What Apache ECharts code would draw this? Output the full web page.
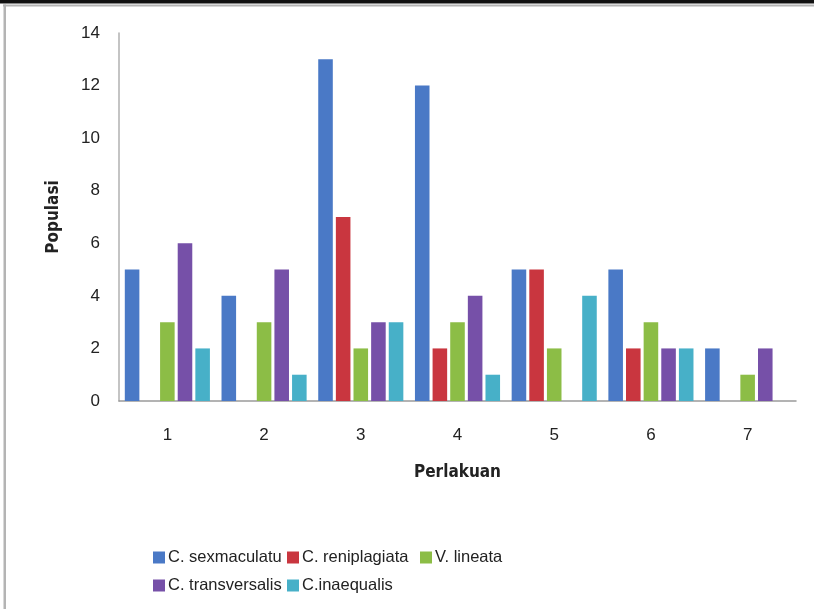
<!DOCTYPE html>
<html>
<head>
<meta charset="utf-8">
<script src="https://cdn.jsdelivr.net/npm/echarts@6/dist/echarts.min.js"></script>
<style>
  html, body { margin: 0; padding: 0; background: #fff; }
  #chart { width: 814px; height: 609px; }
</style>
</head>
<body>
<div id="chart"></div>
<script>
// Treatments on the x axis
const categories = ['1', '2', '3', '4', '5', '6', '7'];

// Population counts per species, one value per treatment
const sexmaculatu    = [5, 4, 13, 12, 5, 5, 2];
const reniplagiata   = [0, 0, 7, 2, 5, 2, 0];
const lineata        = [3, 3, 2, 3, 2, 3, 1];
const transversalis  = [6, 5, 3, 4, 0, 2, 2];
const inaequalis     = [2, 1, 3, 1, 4, 2, 0];

const speciesNames = ['C. sexmaculatu', 'C. reniplagiata', 'V. lineata', 'C. transversalis', 'C.inaequalis'];
const speciesValues = [sexmaculatu, reniplagiata, lineata, transversalis, inaequalis];
const speciesColors = ['#4a79c6', '#c9363f', '#8cbd46', '#7650a8', '#47b0c8'];

const yTicks = { min: 0, max: 14, interval: 2 };

const chart = echarts.init(document.getElementById('chart'), null, { renderer: 'canvas' });

const textFont = 'Liberation Sans, Arial, sans-serif';
const titleFont = 'DejaVu Sans Condensed, DejaVu Sans, sans-serif';

// Legend laid out as a grid: three items in the first row, two in the second
const legendSlots = [
  { left: 153, top: 549 },
  { left: 287, top: 549 },
  { left: 420, top: 549 },
  { left: 153, top: 577 },
  { left: 287, top: 577 }
];
const legends = speciesNames.map((name, i) => ({
  data: [name],
  left: legendSlots[i].left,
  top: legendSlots[i].top,
  orient: 'horizontal',
  itemWidth: 12,
  itemHeight: 12,
  icon: 'rect',
  padding: 0,
  itemStyle: { borderWidth: 0 },
  selectedMode: false,
  textStyle: { fontFamily: textFont, fontSize: 16.5, color: '#222', padding: [0, 0, 0, -2] }
}));

const option = {
  animation: false,
  backgroundColor: '#fff',
  color: speciesColors,
  graphic: [
    { type: 'rect', shape: { x: 0, y: 0, width: 814, height: 3.5 }, style: { fill: '#111' }, silent: true },
    { type: 'rect', shape: { x: 3, y: 4.5, width: 811, height: 2 }, style: { fill: '#b4b4b4' }, silent: true },
    { type: 'rect', shape: { x: 3.5, y: 4.5, width: 2.5, height: 605 }, style: { fill: '#b4b4b4' }, silent: true }
  ],
  legend: legends,
  grid: { left: 119, top: 33, right: 18, bottom: 208, containLabel: false },
  xAxis: {
    type: 'category',
    data: categories,
    name: 'Perlakuan',
    nameLocation: 'middle',
    nameGap: 63,
    nameTextStyle: { fontFamily: titleFont, fontWeight: 'bold', fontSize: 17, color: '#222', verticalAlign: 'top' },
    axisLine: { show: true, lineStyle: { color: '#9a9a9a', width: 1.5 } },
    axisTick: { show: false },
    axisLabel: { margin: 26, fontFamily: textFont, fontSize: 17, color: '#222' },
    splitLine: { show: false }
  },
  yAxis: {
    type: 'value',
    min: yTicks.min,
    max: yTicks.max,
    interval: yTicks.interval,
    name: 'Populasi',
    nameLocation: 'middle',
    nameGap: 57,
    nameRotate: 90,
    nameTextStyle: { fontFamily: titleFont, fontWeight: 'bold', fontSize: 17, color: '#222' },
    axisLine: { show: true, lineStyle: { color: '#b0b0b0', width: 1.5 } },
    axisTick: { show: false },
    axisLabel: { margin: 19, fontFamily: textFont, fontSize: 17, color: '#222' },
    splitLine: { show: false }
  },
  series: speciesNames.map((name, i) => ({
    name: name,
    type: 'bar',
    data: speciesValues[i],
    barCategoryGap: '12%',
    barGap: '21%',
    itemStyle: { color: speciesColors[i] }
  }))
};

chart.setOption(option);
</script>
</body>
</html>
